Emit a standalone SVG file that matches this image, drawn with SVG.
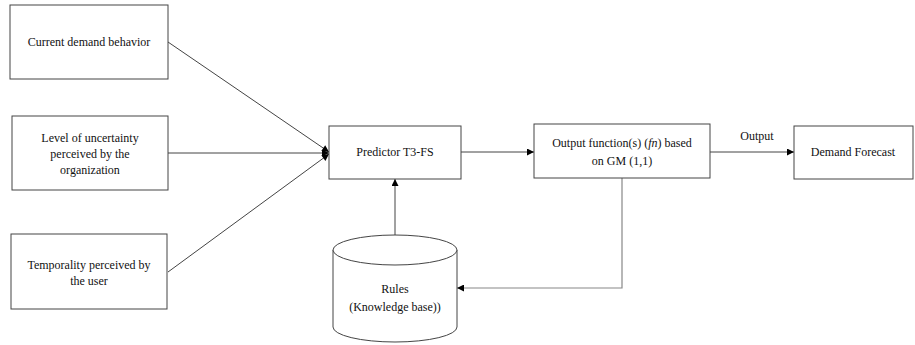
<svg xmlns="http://www.w3.org/2000/svg" width="915" height="345" viewBox="0 0 915 345">
<style>
.box{fill:#fff;stroke:#444;stroke-width:1}
.t{font-family:"Liberation Serif","Times New Roman",serif;font-size:12px;fill:#111;text-anchor:middle}
.c{fill:none;stroke:#444;stroke-width:1}
.g{fill:none;stroke:#888;stroke-width:1.2}
</style>
<defs>
<marker id="ah" viewBox="0 0 10 10" refX="10" refY="5" markerWidth="8" markerHeight="7" markerUnits="userSpaceOnUse" orient="auto">
<path d="M0,0 L10,5 L0,10 z" fill="#000"/>
</marker>
</defs>
<rect width="915" height="345" fill="#fff"/>
<g id="connectors">
<line class="c" x1="168" y1="42" x2="329" y2="152" marker-end="url(#ah)"/>
<line class="c" x1="168" y1="153" x2="329" y2="153" marker-end="url(#ah)"/>
<line class="c" x1="168" y1="272" x2="329" y2="154" marker-end="url(#ah)"/>
<line class="c" x1="461" y1="152" x2="534" y2="152" marker-end="url(#ah)"/>
<line class="c" x1="710" y1="152" x2="794" y2="152" marker-end="url(#ah)"/>
<text class="t" x="757" y="140">Output</text>
<line class="c" x1="395" y1="235" x2="395" y2="179" marker-end="url(#ah)"/>
<polyline class="g" points="622,178 622,288 457,288" marker-end="url(#ah)"/>
</g>
<g id="n1">
<rect class="box" x="10" y="5" width="158" height="74"/>
<text class="t" x="89" y="46">Current demand behavior</text>
</g>
<g id="n2">
<rect class="box" x="12" y="116" width="156" height="74"/>
<text class="t" x="90" y="142">Level of uncertainty</text>
<text class="t" x="90" y="158">perceived by the</text>
<text class="t" x="90" y="174">organization</text>
</g>
<g id="n3">
<rect class="box" x="11" y="234" width="156" height="75"/>
<text class="t" x="89" y="269">Temporality perceived by</text>
<text class="t" x="89" y="285">the user</text>
</g>
<g id="predictor">
<rect class="box" x="329" y="126" width="132" height="53"/>
<text class="t" x="395" y="156">Predictor T3-FS</text>
</g>
<g id="output">
<rect class="box" x="534" y="124" width="176" height="54"/>
<text class="t" x="622" y="147">Output function(s) (<tspan font-style="italic">fn</tspan>) based</text>
<text class="t" x="622" y="165">on GM (1,1)</text>
</g>
<g id="forecast">
<rect class="box" x="794" y="126" width="119" height="53"/>
<text class="t" x="853" y="156">Demand Forecast</text>
</g>
<g id="rules">
<path class="box" d="M333,250 L333,327 A62,15 0 0 0 457,327 L457,250"/>
<ellipse class="box" cx="395" cy="250" rx="62" ry="15"/>
<text class="t" x="395" y="293">Rules</text>
<text class="t" x="395" y="311">(Knowledge base))</text>
</g>
</svg>
